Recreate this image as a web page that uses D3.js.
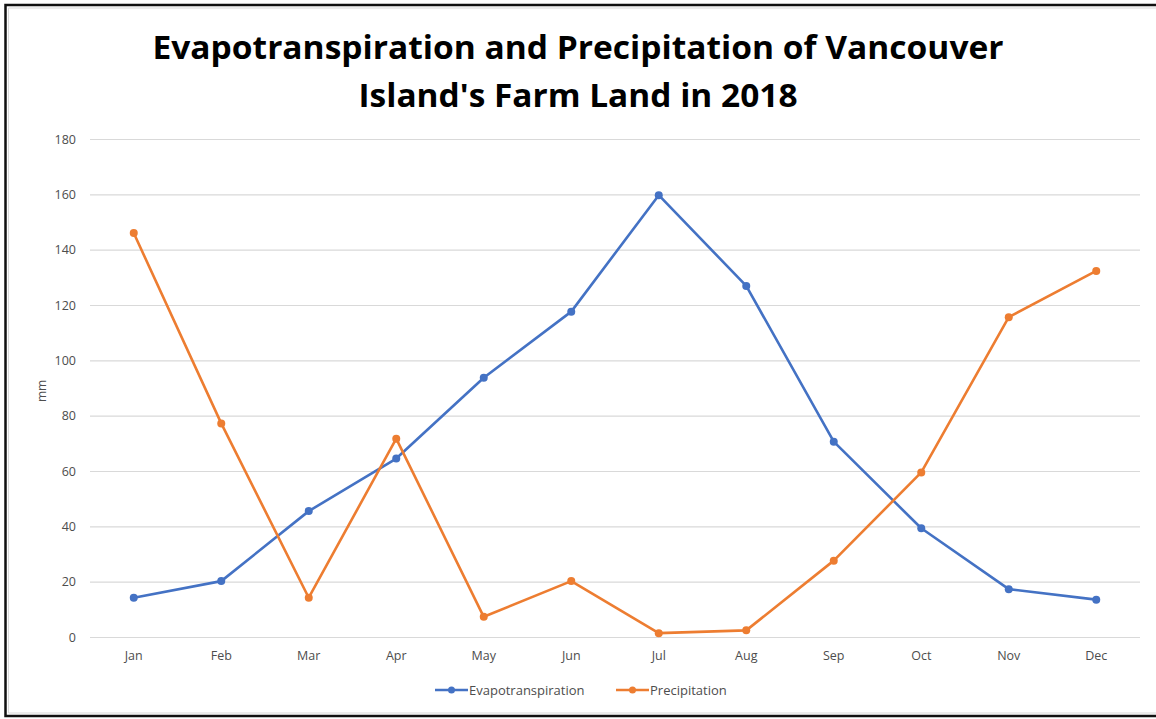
<!DOCTYPE html>
<html>
<head>
<meta charset="utf-8">
<script src="https://cdn.jsdelivr.net/npm/d3@7"></script>
<style>
  html, body { margin: 0; padding: 0; background: #fff; }
  svg { display: block; }
</style>
</head>
<body>
<svg id="chart" width="1156" height="719"></svg>
<script>
// Monthly water balance, Vancouver Island farm land, 2018 (mm)
const months = ["Jan","Feb","Mar","Apr","May","Jun","Jul","Aug","Sep","Oct","Nov","Dec"];
const evapotranspiration = [14.2, 20.2, 45.5, 64.5, 93.7, 117.6, 159.7, 126.9, 70.6, 39.3, 17.3, 13.5];
const precipitation = [146, 77.2, 14.2, 71.7, 7.3, 20.2, 1.4, 2.4, 27.6, 59.5, 115.6, 132.3];
const yTicks = [0, 20, 40, 60, 80, 100, 120, 140, 160, 180];
const titleLines = ["Evapotranspiration and Precipitation of Vancouver", "Island's Farm Land in 2018"];
const seriesNames = ["Evapotranspiration", "Precipitation"];

const colors = { Evapotranspiration: "#4472C4", Precipitation: "#ED7D31" };
const labelFont = "'Open Sans', 'Liberation Sans', sans-serif";
const labelColor = "#4d4d4d";
const svg = d3.select("#chart");
const W = 1156, H = 719;
const margin = { left: 90, right: 16 };

// frame
svg.append("rect").attr("x", 0).attr("y", 0).attr("width", W).attr("height", H).attr("fill", "#fff");
svg.append("path")
  .attr("d", `M${W},5 H5.5 V716 H${W}`)
  .attr("fill", "none").attr("stroke", "#111").attr("stroke-width", 2.5);
svg.append("path")
  .attr("d", `M${W},8 H8.5 V713 H${W}`)
  .attr("fill", "none").attr("stroke", "#d9d9d9").attr("stroke-width", 1);

// title
const title = svg.append("text")
  .attr("font-family", "'Open Sans', 'Liberation Sans', sans-serif")
  .attr("font-weight", 700).attr("font-size", 32).attr("fill", "#000")
  .attr("text-anchor", "middle");
const titleWidths = [851, 439];
titleLines.forEach((t, i) => {
  title.append("tspan").attr("x", 578).attr("y", 59 + i * 48)
    .attr("textLength", titleWidths[i]).attr("lengthAdjust", "spacingAndGlyphs")
    .text(t);
});

const x = d3.scaleBand().domain(months).range([margin.left, W - margin.right]);
const y = d3.scaleLinear().domain([0, 180]).range([637, 139]);

// gridlines
svg.append("g").selectAll("line").data(yTicks).join("line")
  .attr("x1", margin.left).attr("x2", W - margin.right)
  .attr("y1", d => y(d) + 0.5).attr("y2", d => y(d) + 0.5)
  .attr("stroke", "#d9d9d9").attr("stroke-width", 1.2);

// y axis labels
const yAxis = d3.axisLeft(y).tickValues(yTicks).tickSize(0).tickPadding(0);
const yg = svg.append("g").attr("transform", "translate(76,0)").call(yAxis);
yg.select(".domain").remove();
yg.selectAll("text")
  .attr("font-family", labelFont).attr("font-size", 12.5).attr("fill", labelColor);

// x axis labels
const xAxis = d3.axisBottom(x).tickSize(0).tickPadding(0);
const xg = svg.append("g").attr("transform", "translate(0,651)").call(xAxis);
xg.select(".domain").remove();
xg.selectAll("text")
  .attr("font-family", labelFont).attr("font-size", 12.5).attr("fill", labelColor);

// y axis title
svg.append("text")
  .attr("transform", "translate(46,391) rotate(-90)")
  .attr("text-anchor", "middle")
  .attr("font-family", labelFont).attr("font-size", 12).attr("fill", labelColor)
  .text("mm");

// series
const series = [
  { name: seriesNames[0], values: evapotranspiration },
  { name: seriesNames[1], values: precipitation }
];
const line = d3.line()
  .x((d, i) => x(months[i]) + x.bandwidth() / 2)
  .y(d => y(d));

series.forEach(s => {
  const g = svg.append("g");
  g.append("path").datum(s.values)
    .attr("d", line).attr("fill", "none")
    .attr("stroke", colors[s.name]).attr("stroke-width", 2.6)
    .attr("stroke-linejoin", "round").attr("stroke-linecap", "round");
  g.selectAll("circle").data(s.values).join("circle")
    .attr("cx", (d, i) => x(months[i]) + x.bandwidth() / 2)
    .attr("cy", d => y(d))
    .attr("r", 4).attr("fill", colors[s.name]);
});

// legend
const legendItems = [
  { name: seriesNames[0], x0: 435 },
  { name: seriesNames[1], x0: 616 }
];
const lg = svg.append("g");
legendItems.forEach(it => {
  lg.append("line").attr("x1", it.x0).attr("x2", it.x0 + 33)
    .attr("y1", 690).attr("y2", 690)
    .attr("stroke", colors[it.name]).attr("stroke-width", 2.6);
  lg.append("circle").attr("cx", it.x0 + 16.5).attr("cy", 690).attr("r", 3.5)
    .attr("fill", colors[it.name]);
  lg.append("text").attr("x", it.x0 + 34).attr("y", 694.5)
    .attr("font-family", labelFont).attr("font-size", 13).attr("fill", labelColor)
    .text(it.name);
});
</script>
</body>
</html>
